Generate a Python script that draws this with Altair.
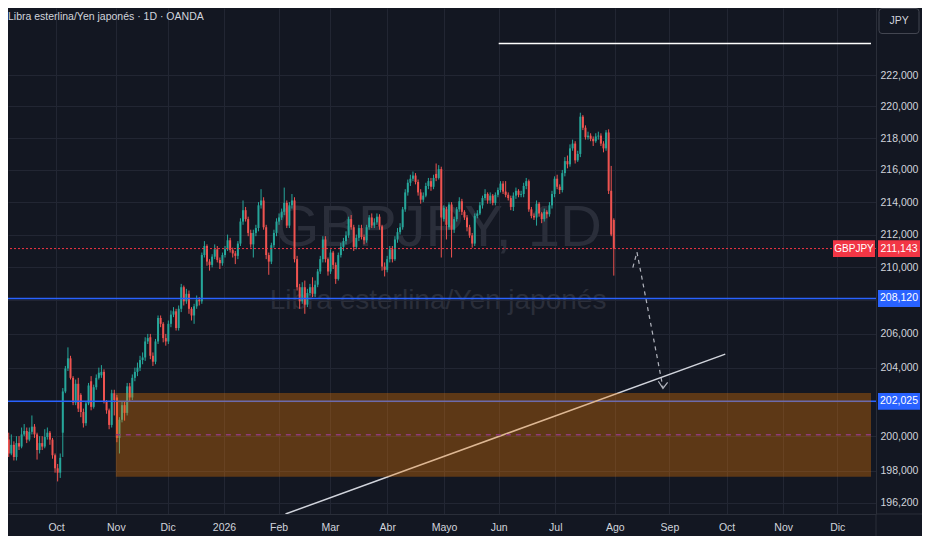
import altair as alt
import pandas as pd

# ---------------- data ----------------
opens = [
199.2,199.8,199.0,199.5,198.8,199.6,199.4,200.1,200.3,199.8,
200.25,200.55,200.1,199.2,199.6,199.4,199.95,200.2,199.8,198.9,
198.15,197.9,200.2,202.6,203.95,204.55,203.4,201.95,203.05,202.4,
201.4,200.75,201.9,203.2,201.7,202.85,203.4,203.55,203.75,202.0,
201.5,200.65,202.5,202.25,199.9,200.95,201.8,201.35,202.9,202.25,
203.4,203.75,204.0,204.45,204.6,205.55,205.8,204.7,204.35,205.55,
206.95,206.6,205.75,205.55,206.6,207.15,207.35,206.35,207.5,208.8,
207.95,208.4,207.5,207.1,207.65,208.05,207.95,210.75,211.3,210.35,
210.15,210.65,211.1,210.45,210.25,210.75,211.1,211.65,211.05,210.85,
210.7,211.45,212.8,213.5,212.95,212.1,211.4,212.1,212.4,213.8,
214.1,212.45,210.75,210.35,211.35,212.1,212.8,213.05,213.4,213.95,
212.55,213.8,214.1,210.5,208.8,207.95,208.8,207.75,208.45,208.8,
208.4,208.95,209.75,210.5,211.7,210.5,209.75,210.9,210.15,209.3,
210.75,211.25,211.6,211.95,212.95,212.45,211.25,211.8,212.4,211.85,
211.65,212.45,213.05,212.55,212.75,213.1,212.5,210.05,209.85,210.5,
211.1,210.5,211.7,212.15,212.45,213.55,214.6,215.2,215.45,215.65,
215.25,214.6,214.15,214.4,215.0,215.3,214.95,215.75,215.5,216.05,
212.95,213.55,212.45,213.85,212.3,212.95,213.55,214.05,213.4,213.05,
212.45,211.95,211.45,213.15,213.3,213.8,214.25,214.5,214.1,214.4,
213.95,214.45,214.75,215.15,214.65,214.45,214.25,213.7,214.4,214.7,
214.45,214.5,215.0,215.3,213.55,213.15,213.05,213.9,213.3,212.95,
213.4,213.25,213.8,214.5,215.45,214.95,214.75,215.8,216.55,216.35,
217.35,217.65,216.6,217.0,219.35,218.65,218.05,218.15,217.95,217.8,
218.1,218.15,217.65,217.35,218.35,214.7,212.9]
highs = [
200.1,200.2,200.1,199.7,200.0,200.0,200.5,200.7,200.5,200.5,
201.2,200.7,200.2,200.0,200.0,200.4,200.5,200.3,199.9,199.0,
198.4,199.0,202.8,204.1,205.2,204.7,203.5,203.3,203.4,202.5,
201.6,202.0,203.1,203.5,203.0,203.6,204.0,204.15,203.9,202.1,
201.6,202.7,202.7,202.4,201.1,202.0,202.0,203.1,203.1,203.6,
204.0,204.3,204.7,204.9,205.8,206.0,206.0,204.9,205.7,207.1,
207.1,206.7,206.0,206.8,207.4,207.6,207.5,207.7,209.0,208.9,
208.7,208.6,207.6,207.8,208.3,208.2,210.9,211.6,211.4,210.5,
210.8,211.4,211.3,210.6,210.9,211.3,212.0,211.8,211.2,211.0,
211.6,213.0,214.1,213.7,213.1,212.3,212.3,212.6,214.0,214.8,
214.3,212.6,210.9,211.5,212.3,213.0,213.3,213.6,214.9,214.1,
214.0,214.5,214.3,210.7,209.0,209.1,209.2,208.7,209.0,209.4,
209.2,209.9,210.7,211.9,211.9,210.6,211.1,211.0,210.3,210.9,
211.5,211.8,212.2,213.1,213.2,212.6,212.0,212.6,212.6,212.0,
212.6,213.2,213.3,213.0,213.3,213.25,212.6,210.3,210.7,211.3,
211.3,211.9,212.4,212.7,213.7,214.8,215.4,215.7,215.9,215.8,
215.4,214.8,214.6,215.2,215.5,215.5,215.7,216.4,216.3,216.2,
213.8,213.7,214.0,214.0,213.1,213.7,214.3,214.2,213.5,213.2,
212.6,212.1,213.3,213.5,214.0,214.4,214.8,214.6,214.6,214.5,
214.6,214.9,215.3,215.3,215.3,214.6,214.4,214.6,214.9,214.8,
214.7,215.2,215.5,215.4,213.7,213.3,214.1,214.0,213.4,213.6,
213.5,214.0,214.7,215.6,215.7,215.1,216.0,216.8,216.9,217.6,
217.9,217.8,217.2,219.6,219.45,218.8,218.4,218.3,218.1,218.3,
218.4,218.3,217.8,218.5,218.55,216.25,213.0]
lows = [
198.9,198.8,198.9,198.6,198.6,199.2,199.3,200.0,199.6,199.7,
200.1,199.9,198.65,199.0,199.2,199.3,199.8,199.5,198.7,197.9,
197.4,197.6,198.8,202.5,203.8,203.3,201.8,201.8,201.4,201.1,
200.5,200.6,201.8,201.5,201.6,202.7,203.3,203.4,201.9,201.3,
200.4,200.5,201.2,199.65,199.0,200.8,200.9,201.2,202.0,202.1,
203.2,203.5,203.8,204.2,204.4,205.4,204.5,204.1,204.2,205.4,
206.4,205.5,205.3,205.4,206.4,207.0,206.2,206.2,207.3,207.7,
207.8,207.2,206.8,206.6,207.5,207.7,207.8,210.6,210.1,209.8,
210.0,210.5,210.3,209.9,210.1,210.6,211.0,210.9,210.6,210.2,
210.5,211.3,212.6,212.8,211.9,211.2,210.6,211.9,212.2,213.6,
212.3,210.5,209.55,210.2,211.2,211.9,212.6,212.9,213.2,212.4,
212.4,213.6,210.3,208.6,207.5,207.8,207.2,207.6,208.3,208.2,
208.2,208.8,209.6,210.3,210.3,209.5,209.6,209.9,209.0,209.2,
210.6,211.0,211.4,211.8,212.3,211.0,211.1,211.6,211.7,211.4,
211.5,212.3,212.4,212.4,212.6,212.3,209.8,209.45,209.7,210.3,
210.3,210.4,211.5,212.0,212.3,213.4,214.4,215.0,215.3,215.1,
214.4,213.9,214.0,214.3,214.8,214.7,214.8,215.3,215.4,210.6,
212.8,211.7,212.3,210.6,212.1,212.8,213.4,213.2,212.9,212.2,
211.8,211.2,211.3,213.0,213.2,213.6,214.1,213.9,213.9,213.8,
213.8,214.3,214.6,214.5,214.3,214.1,213.5,213.45,214.2,214.3,
214.3,214.3,214.8,213.4,213.0,212.9,212.55,213.1,212.7,212.8,
213.0,213.1,213.6,214.3,214.8,214.5,214.6,215.6,216.1,216.2,
217.2,216.4,216.5,216.8,218.5,217.9,217.9,217.8,217.5,217.7,
217.9,217.5,217.1,217.2,214.5,211.9,209.5]
closes = [
199.8,199.0,199.5,198.8,199.6,199.4,200.1,200.3,199.8,200.25,
200.55,200.1,199.2,199.6,199.4,199.95,200.2,199.8,198.9,198.15,
197.9,198.75,202.6,203.95,204.55,203.4,201.95,203.05,201.6,201.4,
200.75,201.9,202.95,201.7,202.85,203.4,203.7,203.75,202.0,201.5,
200.65,202.5,202.1,199.9,200.95,201.8,201.35,202.9,202.25,203.4,
203.75,204.0,204.45,204.6,205.55,205.75,204.7,204.35,205.55,206.95,
206.6,205.75,205.55,206.6,207.15,207.35,206.35,207.5,208.8,207.95,
208.4,207.5,207.1,207.65,208.05,207.95,210.75,211.3,210.35,210.15,
210.65,211.1,210.45,210.25,210.75,211.1,211.65,211.05,210.85,210.7,
211.45,212.8,213.5,212.95,212.1,211.4,212.1,212.4,213.8,214.1,
212.45,210.75,210.35,211.35,212.1,212.8,213.05,213.4,213.95,212.55,
213.8,214.1,210.5,208.8,207.95,208.8,207.75,208.45,208.8,208.4,
208.95,209.75,210.5,211.7,210.5,209.75,210.9,210.15,209.3,210.75,
211.25,211.6,211.95,212.95,212.45,211.25,211.8,212.4,211.85,211.65,
212.45,213.05,212.55,212.75,213.1,212.5,210.05,209.85,210.5,211.1,
210.5,211.7,212.15,212.45,213.55,214.6,215.2,215.45,215.65,215.25,
214.6,214.15,214.4,215.0,215.3,214.95,215.5,215.5,216.05,213.05,
213.65,212.6,213.85,212.3,212.95,213.55,214.05,213.4,213.05,212.45,
211.95,211.45,213.15,213.3,213.8,214.25,214.5,214.1,214.4,213.95,
214.45,214.75,215.15,214.65,214.45,214.25,213.7,214.4,214.7,214.45,
214.5,215.0,215.3,213.55,213.15,213.05,213.9,213.3,212.95,213.4,
213.25,213.8,214.5,215.45,214.95,214.75,215.8,216.55,216.35,217.35,
217.65,216.6,217.0,219.35,218.65,218.05,218.15,217.95,217.8,218.1,
218.15,217.65,217.35,218.35,214.7,212.0,211.143]

month_labels = ["Oct", "Nov", "Dic", "2026", "Feb", "Mar", "Abr", "Mayo",
                "Jun", "Jul", "Ago", "Sep", "Oct", "Nov", "Dic"]
month_pos = [19.4, 42.6, 62.7, 84.6, 105.8, 125.8, 148.0, 170.1,
             191.3, 213.3, 236.4, 257.6, 279.8, 301.8, 322.8]
price_ticks = [196.2, 198, 200, 204, 206, 210, 212, 214, 216, 218, 220, 222]
grid_prices = [202, 208]

support_levels = [208.12, 202.025]
last_price = 211.143
top_level = 224.04
top_level_start = 191.3

zone_left = 42.6
zone_top = 202.51
zone_bottom = 197.66
zone_mid = 200.08

trend_k = [108.5, 279.3]
trend_p = [195.55, 204.8]

arrow_k = [243.4, 245.0, 255.1]
arrow_p = [209.99, 210.93, 202.83]
head_k = [253.3, 255.1, 256.9]
head_p = [203.2, 202.78, 203.13]

X_MIN, X_MAX = 2.66, 335.9
Y_MIN, Y_MAX = 195.55, 226.35

# ---------------- styling ----------------
W, H = 868, 506
RP, BP = 46, 22
BG = "#131722"
GRID = "#222633"
AXC = "#2a2e39"
TXT = "#d1d4dc"
UP, DOWN = "#26a69a", "#ef5350"
FONT = "Liberation Sans, Arial, sans-serif"
FS = 10.5

labels_js = "[" + ",".join("'%s'" % m for m in month_labels) + "]"
pos_js = "[" + ",".join(str(p) for p in month_pos) + "]"

xscale = alt.Scale(domain=[X_MIN, X_MAX], nice=False, zero=False)
yscale = alt.Scale(type="log", domain=[Y_MIN, Y_MAX], nice=False, zero=False)

x_axis = alt.Axis(values=month_pos, labelExpr=labels_js + "[indexof(" + pos_js + ", datum.value)]",
                  grid=True, gridColor=GRID, domainColor=AXC, ticks=False, labelColor=TXT,
                  labelFont=FONT, labelFontSize=FS, labelPadding=8, title=None,
                  labelOverlap=False, labelFlush=False)
y_axis = alt.Axis(orient="right", values=price_ticks,
                  labelExpr="replace(format(datum.value, '.3f'), '.', ',')",
                  grid=True, gridColor=GRID, domainColor=AXC, ticks=False, labelColor=TXT,
                  labelFont=FONT, labelFontSize=FS, labelPadding=4, labelAlign="left",
                  title=None, labelOverlap=False, labelFlush=False)


def X(field):
    return alt.X(field, scale=xscale, axis=x_axis)


def Y(field):
    return alt.Y(field, scale=yscale, axis=y_axis)


n = len(closes)
candles = pd.DataFrame({"i": list(range(n)), "open": opens, "high": highs,
                        "low": lows, "close": closes})
candles["dir"] = ["up" if c >= o else "down" for o, c in zip(opens, closes)]
color_enc = alt.Color("dir:N", scale=alt.Scale(domain=["up", "down"], range=[UP, DOWN]), legend=None)

one = pd.DataFrame({"a": [0]})

# extra grid lines at the prices whose labels are covered by the level boxes
grid_extra = alt.Chart(pd.DataFrame({"level": grid_prices})).mark_rule(
    color=GRID, strokeWidth=1).encode(y=Y("level:Q"))

# watermark
wm1 = alt.Chart(pd.DataFrame({"t": ["GBPJPY, 1D"]})).mark_text(
    font=FONT, fontSize=58, color="#2a2e3a", align="center", baseline="middle"
).encode(text="t:N", x=alt.value(430), y=alt.value(221))
wm2 = alt.Chart(pd.DataFrame({"t": ["Libra esterlina/Yen japonés"]})).mark_text(
    font=FONT, fontSize=28, color="#2a2e3a", align="center", baseline="middle"
).encode(text="t:N", x=alt.value(430), y=alt.value(293))

# candles
wicks = alt.Chart(candles).mark_rule(strokeWidth=1, clip=True).encode(
    x=X("i:Q"), y=Y("low:Q"), y2="high:Q", color=color_enc)
bodies = alt.Chart(candles).mark_bar(size=2, clip=True).encode(
    x=X("i:Q"), y=Y("open:Q"), y2="close:Q", color=color_enc)

# horizontal levels
sup = alt.Chart(pd.DataFrame({"level": support_levels})).mark_rule(
    color="#2962ff", strokeWidth=1.5).encode(y=Y("level:Q"))
topline = alt.Chart(pd.DataFrame({"x0": [top_level_start], "x1": [X_MAX], "level": [top_level]})).mark_rule(
    color="#ffffff", strokeWidth=1.5, clip=True).encode(x=X("x0:Q"), x2="x1:Q", y=Y("level:Q"))
trend = alt.Chart(pd.DataFrame({"k": trend_k, "p": trend_p})).mark_line(
    color="#d1d4dc", strokeWidth=1.5, clip=True).encode(x=X("k:Q"), y=Y("p:Q"))
lastline = alt.Chart(pd.DataFrame({"level": [last_price]})).mark_rule(
    color="#f23645", strokeWidth=1, strokeDash=[2, 2]).encode(y=Y("level:Q"))

# zone
zone = alt.Chart(pd.DataFrame({"x0": [zone_left], "x1": [X_MAX], "top": [zone_top], "bot": [zone_bottom]})).mark_rect(
    color="#f57c00", opacity=0.33, clip=True).encode(x=X("x0:Q"), x2="x1:Q", y=Y("top:Q"), y2="bot:Q")
zone_mid_line = alt.Chart(pd.DataFrame({"x0": [zone_left], "x1": [X_MAX], "level": [zone_mid]})).mark_rule(
    color="#8e3b78", strokeWidth=1.5, strokeDash=[5, 5], clip=True).encode(x=X("x0:Q"), x2="x1:Q", y=Y("level:Q"))

# projection arrow
arrow = alt.Chart(pd.DataFrame({"k": arrow_k, "p": arrow_p, "o": [0, 1, 2]})).mark_line(
    color="#b2b5be", strokeWidth=1.2, strokeDash=[4, 4], clip=True).encode(
    x=X("k:Q"), y=Y("p:Q"), order="o:Q")
head = alt.Chart(pd.DataFrame({"k": head_k, "p": head_p, "o": [0, 1, 2]})).mark_line(
    color="#b2b5be", strokeWidth=1.2, clip=True).encode(
    x=X("k:Q"), y=Y("p:Q"), order="o:Q")

# price label boxes on the axis
box_df = pd.DataFrame({"price": support_levels + [last_price],
                       "fill": ["#2962ff", "#2962ff", "#f23645"]})
box_shape = "M-1,-0.4L1,-0.4L1,0.4L-1,0.4Z"
boxes = alt.Chart(box_df).mark_point(shape=box_shape, filled=True, size=42 * 42, opacity=1).encode(
    x=alt.value(W + 23), y=Y("price:Q"), color=alt.Color("fill:N", scale=None))
box_text = alt.Chart(box_df).transform_calculate(
    lab="replace(format(datum.price, '.3f'), '.', ',')"
).mark_text(font=FONT, fontSize=FS, color="#ffffff", align="center", baseline="middle").encode(
    x=alt.value(W + 23), y=Y("price:Q"), text="lab:N")

sym_df = pd.DataFrame({"price": [last_price], "t": ["GBPJPY"]})
sym_box = alt.Chart(sym_df).mark_point(shape="M-1,-0.4L1,-0.4L1,0.4L-1,0.4Z", filled=True,
                                       size=42 * 42, opacity=1, color="#f23645").encode(
    x=alt.value(W - 22), y=Y("price:Q"))
sym_text = alt.Chart(sym_df).mark_text(font=FONT, fontSize=10, color="#ffffff",
                                       align="center", baseline="middle").encode(
    x=alt.value(W - 22), y=Y("price:Q"), text="t:N")

# currency box top right
jpy_shape = ("M-0.85,-0.625Q-1,-0.625 -1,-0.475L-1,0.475Q-1,0.625 -0.85,0.625"
             "L0.85,0.625Q1,0.625 1,0.475L1,-0.475Q1,-0.625 0.85,-0.625Z")
jpy_box = alt.Chart(one).mark_point(shape=jpy_shape, filled=True, size=1600, opacity=1,
                                    fill="#131722", stroke="#434651", strokeWidth=1).encode(
    x=alt.value(W + 23), y=alt.value(13))
jpy_text = alt.Chart(pd.DataFrame({"t": ["JPY"]})).mark_text(
    font=FONT, fontSize=FS, color=TXT, align="center", baseline="middle").encode(
    x=alt.value(W + 23), y=alt.value(13), text="t:N")

# title
title = alt.Chart(pd.DataFrame({"t": ["Libra esterlina/Yen japonés · 1D · OANDA"]})).mark_text(
    font=FONT, fontSize=FS, color=TXT, align="left", baseline="middle").encode(
    x=alt.value(0), y=alt.value(9), text="t:N")

# axis frame extensions
sep_v = alt.Chart(one).mark_rule(color=AXC, strokeWidth=1).encode(
    x=alt.value(W), y=alt.value(H), y2=alt.value(H + BP))
sep_h = alt.Chart(one).mark_rule(color=AXC, strokeWidth=1).encode(
    x=alt.value(W), x2=alt.value(W + RP), y=alt.value(H))

chart = alt.layer(
    wm1, wm2, grid_extra, wicks, bodies, sup, topline, trend, lastline, zone, zone_mid_line,
    arrow, head, boxes, box_text, sym_box, sym_text, jpy_box, jpy_text, title, sep_v, sep_h
).properties(
    width=W, height=H,
    autosize=alt.AutoSizeParams(type="none"),
    padding={"left": 0, "top": 0, "right": RP, "bottom": BP},
    background=BG,
).configure_view(strokeWidth=0)

chart.save("out.html", embed_options={"renderer": "svg", "actions": False})
